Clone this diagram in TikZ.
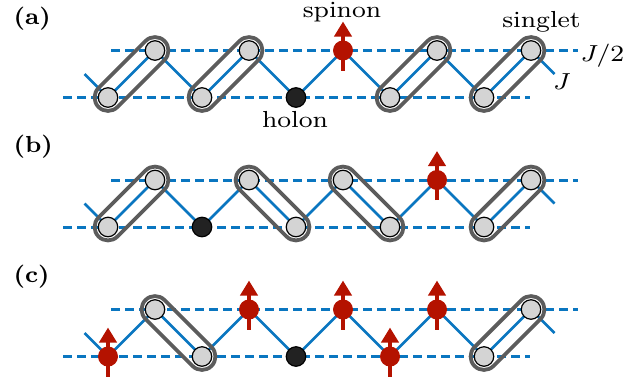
\documentclass[tikz,border=0pt]{standalone}
\usetikzlibrary{arrows.meta,calc}
\definecolor{bondblue}{RGB}{10,118,192}
\definecolor{spinred}{RGB}{180,18,0}
\definecolor{capgray}{RGB}{92,92,92}
\definecolor{sitegray}{RGB}{212,212,212}
\definecolor{holonblack}{RGB}{34,34,34}
\tikzset{
  bond/.style={draw=bondblue, line width=2.5pt},
  halfbond/.style={draw=bondblue, line width=3pt, dash pattern=on 9pt off 5pt},
  site/.style={circle, draw=black, line width=1.2pt, fill=sitegray, minimum size=19.5pt, inner sep=0pt},
  holonsite/.style={site, fill=holonblack},
  spinsite/.style={circle, fill=spinred, minimum size=20pt, inner sep=0pt},
  spinarrow/.style={draw=spinred, line width=4.2pt, -{Triangle[length=15pt,width=17pt]}},
  capsule/.style={draw=capgray, line width=3.8pt, rounded corners=13.4pt, minimum width=93.3pt, minimum height=26.8pt, inner sep=0pt},
  txt/.style={inner sep=0pt, font=\fontsize{8}{10}\selectfont, xscale=3.25, yscale=2.9},
  paneltxt/.style={inner sep=0pt, font=\fontsize{8}{10}\selectfont\bfseries, xscale=3.0, yscale=2.9},
}
\newcommand\mkchain[2]{%
  \foreach \i in {1,...,10}{%
    \pgfmathsetmacro\xx{61+47*\i}%
    \pgfmathsetmacro\yy{(isodd(\i) ? 97.5 : 50.5)+#2}%
    \coordinate (#1\i) at (\xx,\yy);
  }
  \coordinate (#1tl) at (111,50.5+#2);
  \coordinate (#1tr) at (578,50.5+#2);
  \coordinate (#1bl) at (63,97.5+#2);
  \coordinate (#1br) at (530,97.5+#2);
  \draw[halfbond] (#1tl) -- (#1tr);
  \draw[halfbond] (#1bl) -- (#1br);
  \draw[bond] ($(#11)+(-23.5,-23.5)$) -- (#11) -- (#12) -- (#13) -- (#14) -- (#15)
     -- (#16) -- (#17) -- (#18) -- (#19) -- (#110) -- ($(#110)+(23.5,23.5)$);
}
\newcommand\spin[1]{%
  \node[spinsite] (s#1) at (#1) {};
  \draw[spinarrow] ($(s#1)+(0,20)$) -- ($(s#1)+(0,-29)$);
}
\begin{document}
\begin{tikzpicture}[x=1pt,y=-1pt]
\useasboundingbox (0,0) rectangle (639,381);

% ---------- panel (a)
\mkchain{a}{0}
\path (a1) -- (a2) node[capsule, midway, sloped] (ca1) {};
\path (a3) -- (a4) node[capsule, midway, sloped] (ca2) {};
\path (a7) -- (a8) node[capsule, midway, sloped] (ca3) {};
\path (a9) -- (a10) node[capsule, midway, sloped] (ca4) {};
\foreach \k in {1,2,3,4,7,8,9,10} { \node[site] (sa\k) at (a\k) {}; }
\node[holonsite] (sa5) at (a5) {};
\spin{a6}

% ---------- panel (b)
\mkchain{b}{129.5}
\path (b1) -- (b2) node[capsule, midway, sloped] (cb1) {};
\path (b4) -- (b5) node[capsule, midway, sloped] (cb2) {};
\path (b6) -- (b7) node[capsule, midway, sloped] (cb3) {};
\path (b9) -- (b10) node[capsule, midway, sloped] (cb4) {};
\foreach \k in {1,2,4,5,6,7,9,10} { \node[site] (sb\k) at (b\k) {}; }
\node[holonsite] (sb3) at (b3) {};
\spin{b8}

% ---------- panel (c)
\mkchain{c}{259}
\path (c2) -- (c3) node[capsule, midway, sloped] (cc1) {};
\path (c9) -- (c10) node[capsule, midway, sloped] (cc2) {};
\foreach \k in {2,3,9,10} { \node[site] (sc\k) at (c\k) {}; }
\node[holonsite] (sc5) at (c5) {};
\spin{c1}
\spin{c4}
\spin{c6}
\spin{c7}
\spin{c8}

% ---------- labels
\node[paneltxt, anchor=base west] (la) at (13,24.3) {(a)};
\node[paneltxt, anchor=base west] (lb) at (13,152.3) {(b)};
\node[paneltxt, anchor=base west] (lc) at (13,282.3) {(c)};
\node[txt, anchor=base] (spinonlbl) at (342,17.5) {spinon};
\node[txt, anchor=base] (holonlbl) at (295,127.8) {holon};
\node[txt, anchor=base] (singletlbl) at (541.5,27.8) {singlet};
\node[txt, anchor=base west] (jhalflbl) at (580,61) {$J/2$};
\node[txt, anchor=base] (jlbl) at (562,89) {$J$};
\end{tikzpicture}
\end{document}
